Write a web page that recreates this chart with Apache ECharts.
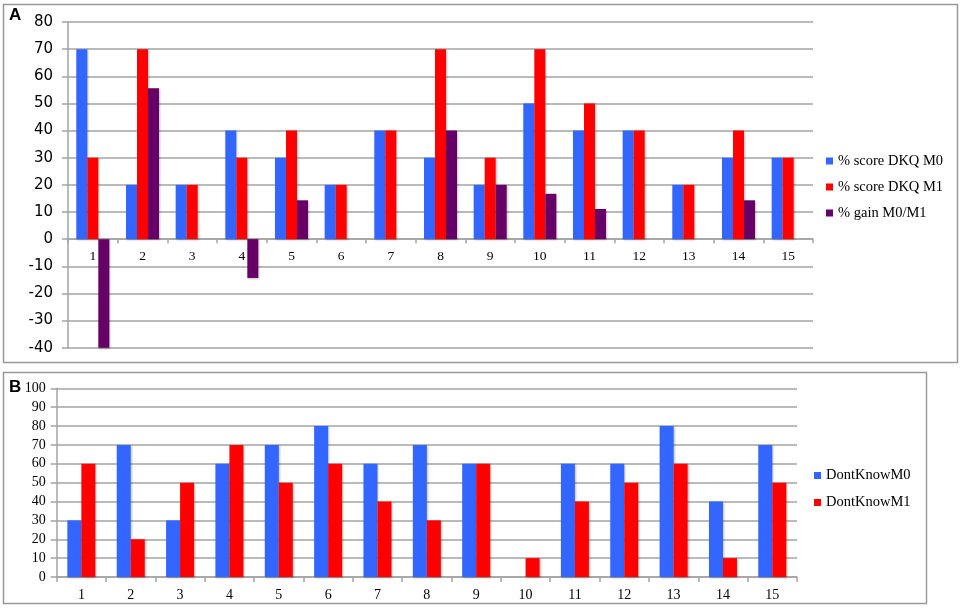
<!DOCTYPE html>
<html><head><meta charset="utf-8">
<script src="https://cdn.jsdelivr.net/npm/echarts@6/dist/echarts.min.js"></script>
<style>html,body{margin:0;padding:0;background:#fff}#c{width:963px;height:608px}</style>
</head><body><div id="c"></div>
<script>
var categories = ['1','2','3','4','5','6','7','8','9','10','11','12','13','14','15'];
var scoreM0 = [70,20,20,40,30,20,40,30,20,50,40,40,20,30,30];
var scoreM1 = [30,70,20,30,40,20,40,70,30,70,50,40,20,40,30];
var gainM0M1 = [-40,55.6,null,-14.3,14.3,null,null,40,20,16.7,11.1,null,null,14.3,null];
var dontKnowM0 = [30,70,30,60,70,80,60,70,60,null,60,60,80,40,70];
var dontKnowM1 = [60,20,50,70,50,60,40,30,60,10,40,50,60,10,50];
var yTicksA = {min:-40, max:80, interval:10};
var yTicksB = {min:0, max:100, interval:10};

var BLUE='#3366ff', RED='#ff0000', PURPLE='#660066';
var serif='"Liberation Serif", "Times New Roman", serif';
var gridColor='#a3a3a3';
var shadow={shadowBlur:2,shadowColor:'rgba(0,0,0,0.25)',shadowOffsetX:1,shadowOffsetY:1};
function st(c){return Object.assign({color:c},shadow);}

var gridAHeight = 325.7;
// x axis A sits at value 0: shift it up from the bottom by the scale's share of the height
var zeroOffsetA = -gridAHeight * (0 - yTicksA.min) / (yTicksA.max - yTicksA.min);

var chart = echarts.init(document.getElementById('c'), null, {renderer:'canvas'});
chart.setOption({
  animation:false,
  graphic:[
    {type:'rect',shape:{x:3.5,y:4.5,width:954,height:358},style:{fill:'none',stroke:'#9a9a9a',lineWidth:1.5}},
    {type:'rect',shape:{x:3.5,y:372.5,width:923,height:231},style:{fill:'none',stroke:'#9a9a9a',lineWidth:1.5}},
    {type:'text',left:9,top:7,style:{text:'A',font:'bold 17px "Liberation Sans", Arial, sans-serif',fill:'#000'}},
    {type:'text',left:9,top:379,style:{text:'B',font:'bold 17px "Liberation Sans", Arial, sans-serif',fill:'#000'}}
  ],
  legend:[
    {orient:'vertical',left:821,top:148,itemWidth:7,itemHeight:7,itemGap:10,icon:'rect',
     textStyle:{fontFamily:serif,fontSize:14.5,color:'#000',lineHeight:16},
     data:['% score DKQ M0','% score DKQ M1','% gain M0/M1']},
    {orient:'vertical',left:809,top:462,itemWidth:7,itemHeight:7,itemGap:10,icon:'rect',
     textStyle:{fontFamily:serif,fontSize:14.5,color:'#000',lineHeight:17},
     data:['DontKnowM0','DontKnowM1']}
  ],
  grid:[
    {left:68,top:22,width:745,height:gridAHeight},
    {left:56.7,top:388.3,width:740.3,height:188.7}
  ],
  xAxis:[
    {type:'category',gridIndex:0,data:categories,position:'bottom',offset:zeroOffsetA,
     axisLine:{onZero:false,lineStyle:{color:gridColor,width:1.5}},
     axisTick:{show:true,alignWithLabel:false,length:4,lineStyle:{color:gridColor,width:1.5}},
     axisLabel:{fontFamily:serif,fontSize:13.5,color:'#000',margin:10}},
    {type:'category',gridIndex:1,data:categories,
     axisLine:{lineStyle:{color:gridColor,width:1.5}},
     axisTick:{show:true,alignWithLabel:false,length:5,lineStyle:{color:gridColor,width:1.5}},
     axisLabel:{fontFamily:serif,fontSize:14,color:'#000',margin:11}}
  ],
  yAxis:[
    {type:'value',gridIndex:0,min:yTicksA.min,max:yTicksA.max,interval:yTicksA.interval,
     axisLine:{show:true,lineStyle:{color:gridColor,width:1.5}},
     axisTick:{show:true,length:6,lineStyle:{color:gridColor,width:1.5}},
     splitLine:{lineStyle:{color:gridColor,width:1.5}},
     axisLabel:{fontFamily:'"DejaVu Sans", Verdana, sans-serif',fontSize:15,color:'#000',margin:15}},
    {type:'value',gridIndex:1,min:yTicksB.min,max:yTicksB.max,interval:yTicksB.interval,
     axisLine:{show:true,lineStyle:{color:gridColor,width:1.5}},
     axisTick:{show:true,length:6,lineStyle:{color:gridColor,width:1.5}},
     splitLine:{lineStyle:{color:gridColor,width:1.5}},
     axisLabel:{fontFamily:serif,fontSize:14,color:'#000',margin:11}}
  ],
  series:[
    {name:'% score DKQ M0',type:'bar',xAxisIndex:0,yAxisIndex:0,data:scoreM0,barWidth:11,barGap:'0%',itemStyle:st(BLUE)},
    {name:'% score DKQ M1',type:'bar',xAxisIndex:0,yAxisIndex:0,data:scoreM1,barWidth:11,barGap:'0%',itemStyle:st(RED)},
    {name:'% gain M0/M1',type:'bar',xAxisIndex:0,yAxisIndex:0,data:gainM0M1,barWidth:11,barGap:'0%',itemStyle:st(PURPLE)},
    {name:'DontKnowM0',type:'bar',xAxisIndex:1,yAxisIndex:1,data:dontKnowM0,barWidth:14,barGap:'0%',itemStyle:st(BLUE)},
    {name:'DontKnowM1',type:'bar',xAxisIndex:1,yAxisIndex:1,data:dontKnowM1,barWidth:14,barGap:'0%',itemStyle:st(RED)}
  ]
});
</script></body></html>
